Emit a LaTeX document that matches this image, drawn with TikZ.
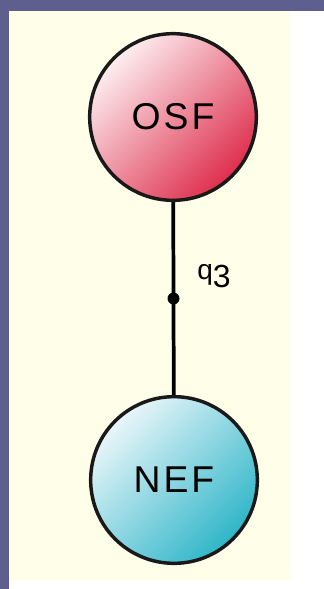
\documentclass[tikz,border=0pt]{standalone}
\usepackage{fontspec}
\setmainfont{Liberation Sans}
\usepackage{tikz}

\definecolor{slate}{HTML}{5E5F8E}
\definecolor{cream}{HTML}{FFFEE8}
\definecolor{rosetop}{HTML}{FDEEF0}
\definecolor{rosemid}{HTML}{EE8A92}
\definecolor{rosebot}{HTML}{DE2E4C}
\definecolor{aquatop}{HTML}{EAF6FA}
\definecolor{aquamid}{HTML}{A4D6E4}
\definecolor{aquabot}{HTML}{2EB6C8}

\tikzset{
    factor/.style={circle, draw=black!90, line width=2.6pt, minimum size=125pt,
        inner sep=0pt, font=\fontsize{28}{30}\selectfont\addfontfeatures{LetterSpace=8}},
}

\begin{document}
\begin{tikzpicture}[x=0.75pt, y=-0.75pt]
    \useasboundingbox (0,0) rectangle (324,589);
    \fill[slate] (0,0) rectangle (324,589);
    \fill[white] (9,11) rectangle (324,589);
    \fill[cream] (9,11) rectangle (290,580);

    \node[factor, top color=rosetop, middle color=rosemid, bottom color=rosebot, shading angle=45] (osf) at (173,117) {OSF};
    \node[factor, top color=aquatop, middle color=aquamid, bottom color=aquabot, shading angle=45] (nef) at (174,480) {NEF};

    \draw[line width=2.8pt] (osf) -- (nef)
        node[midway, circle, fill, inner sep=0pt, minimum size=9pt] (dot) {};
    \node[font=\fontsize{21}{23}\selectfont] (q3) at (214,276) {q\raisebox{-0.55ex}{\fontsize{24}{26}\selectfont 3}};
\end{tikzpicture}
\end{document}
